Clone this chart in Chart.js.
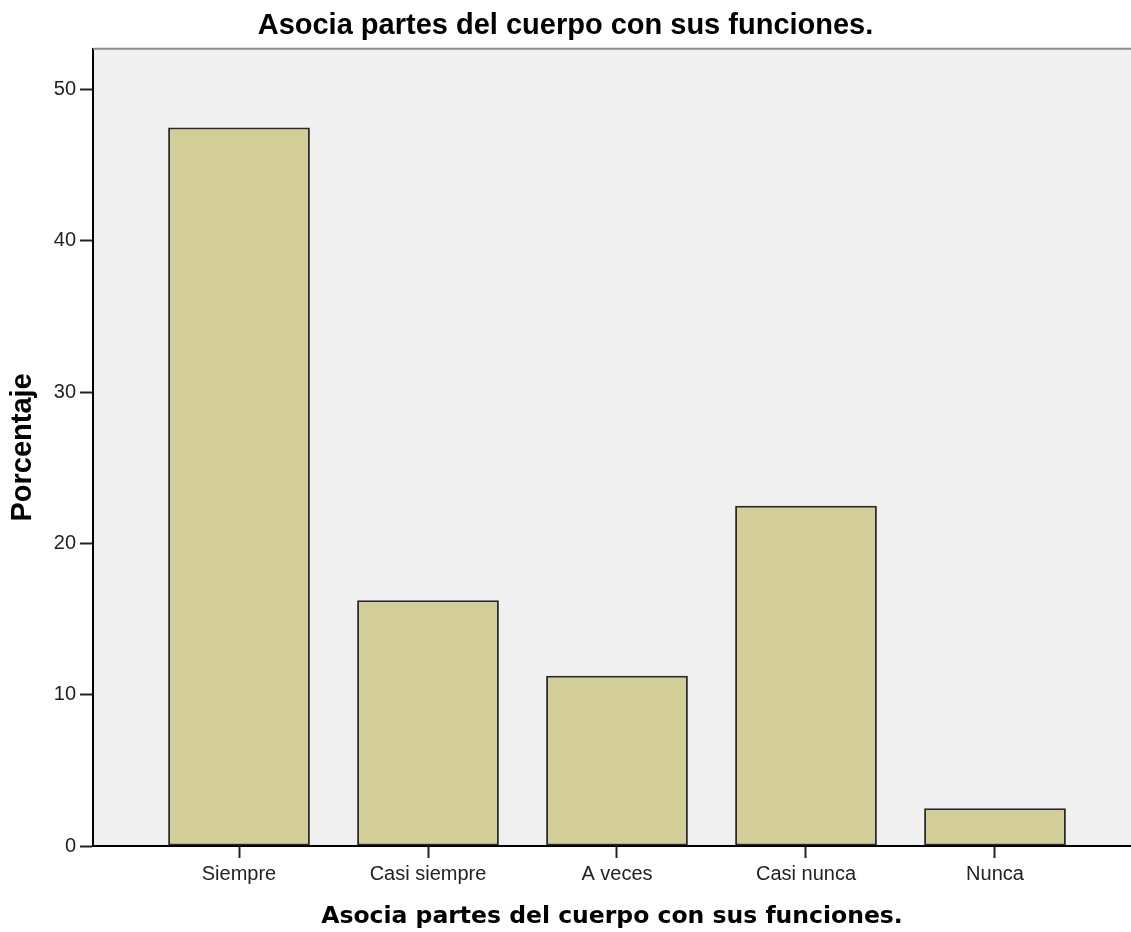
<!DOCTYPE html>
<html>
<head>
<meta charset="utf-8">
<script src="https://cdn.jsdelivr.net/npm/chart.js@4/dist/chart.umd.min.js"></script>
<style>
  body { margin: 0; background: #fff; }
  #wrap { width: 1131px; height: 932px; }
</style>
</head>
<body>
<div id="wrap"><canvas id="chart" width="1131" height="932"></canvas></div>
<script>
// Data (percent of answers)
const categories = ['Siempre', 'Casi siempre', 'A veces', 'Casi nunca', 'Nunca'];
const percentages = [47.5, 16.25, 11.25, 22.5, 2.5];
const yTicks = [0, 10, 20, 30, 40, 50];

const chartTitle = 'Asocia partes del cuerpo con sus funciones.';
const yTitle = 'Porcentaje';

// Grey plot background and the thin top frame line
const plotFrame = {
    id: 'plotFrame',
    beforeDraw: function(chart) {
        const a = chart.chartArea;
        const ctx = chart.ctx;
        ctx.save();
        ctx.fillStyle = '#f0f0f0';
        ctx.fillRect(a.left, a.top, a.right - a.left, a.bottom - a.top);
        ctx.restore();
    },
    afterDraw: function(chart) {
        const a = chart.chartArea;
        const ctx = chart.ctx;
        ctx.save();
        ctx.strokeStyle = '#8c8c8c';
        ctx.lineWidth = 2;
        ctx.beginPath();
        ctx.moveTo(a.left, a.top);
        ctx.lineTo(a.right, a.top);
        ctx.stroke();
        ctx.restore();
    }
};

new Chart(document.getElementById('chart'), {
    type: 'bar',
    data: {
        datasets: [{
            label: yTitle,
            data: percentages.map((v, i) => ({ x: i, y: v })),
            backgroundColor: '#d3ce98',
            borderColor: '#2a2a26',
            borderWidth: 2,
            borderSkipped: false,
            categoryPercentage: 1,
            barPercentage: 0.75
        }]
    },
    options: {
        responsive: false,
        animation: false,
        layout: { padding: { left: 0, right: 0, top: 0, bottom: 0 } },
        plugins: {
            legend: { display: false },
            tooltip: { enabled: false },
            title: {
                display: true,
                text: chartTitle,
                color: '#000',
                font: { family: 'Liberation Sans', size: 29, weight: 'bold', lineHeight: 1.2 },
                padding: { top: 9, bottom: 5 }
            }
        },
        scales: {
            x: {
                type: 'linear',
                min: -0.7725,
                max: 4.7196,
                offset: false,
                afterBuildTicks: function(scale) {
                    scale.ticks = categories.map((c, i) => ({ value: i }));
                },
                afterFit: function(scale) { scale.height = 86; },
                grid: {
                    offset: false,
                    drawOnChartArea: false,
                    drawTicks: true,
                    tickLength: 12,
                    tickWidth: 2,
                    tickColor: '#222'
                },
                border: { display: true, color: '#000', width: 2 },
                ticks: {
                    autoSkip: false,
                    maxRotation: 0,
                    padding: 4,
                    color: '#222',
                    font: { family: 'Liberation Sans', size: 20 },
                    callback: function(v) { return categories[v]; }
                },
                title: {
                    display: true,
                    text: chartTitle,
                    color: '#000',
                    font: { family: 'DejaVu Sans', size: 23.5, weight: 'bold', lineHeight: 1.2 },
                    padding: { top: 0, bottom: 1 }
                }
            },
            y: {
                min: 0,
                max: 52.7,
                afterBuildTicks: function(scale) {
                    scale.ticks = yTicks.map(v => ({ value: v }));
                },
                afterFit: function(scale) { scale.width = 93; },
                grid: {
                    drawOnChartArea: false,
                    drawTicks: true,
                    tickLength: 13,
                    tickWidth: 2,
                    tickColor: '#222'
                },
                border: { display: true, color: '#000', width: 2 },
                ticks: {
                    padding: 4,
                    color: '#222',
                    font: { family: 'Liberation Sans', size: 20 }
                },
                title: {
                    display: true,
                    text: yTitle,
                    color: '#000',
                    font: { family: 'Liberation Sans', size: 29, weight: 'bold', lineHeight: 1.2 },
                    padding: { top: 6, bottom: 0 }
                }
            }
        }
    },
    plugins: [plotFrame]
});
</script>
</body>
</html>
